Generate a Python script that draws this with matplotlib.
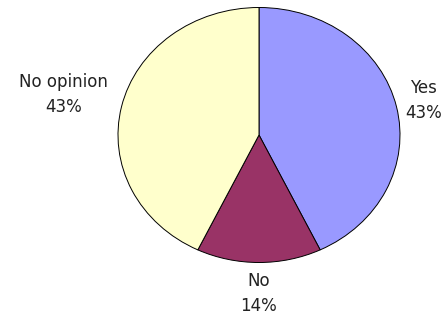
import numpy as np
import matplotlib
matplotlib.use('Agg')
import matplotlib.pyplot as plt

# 데이터
labels = ['Yes', 'No', 'No opinion']
counts = [3, 1, 3]
colors = ['#9999FF', '#993366', '#FFFFCC']
label_dist = [1.2, 1.24, 1.42]

fig = plt.figure(figsize=(4.46, 3.2), dpi=100)
ax = fig.add_axes([0, 0, 1, 1])

wedges, _ = ax.pie(counts, colors=colors, startangle=90, counterclock=False,
                   wedgeprops=dict(edgecolor='black', linewidth=0.7))

total = sum(counts)
for w, lab, c, d in zip(wedges, labels, counts, label_dist):
    ang = np.deg2rad((w.theta1 + w.theta2) / 2)
    pct = round(100 * c / total)
    ax.text(d * np.cos(ang), d * np.sin(ang), f'{lab}\n{pct}%',
            ha='center', va='center', fontsize=12, linespacing=1.5,
            color='#222222')

# 타원형 파이 (Excel 스타일)
ax.set_aspect('auto')
ax.set_xlim(-259 / 141, (446 - 259) / 141)
ax.set_ylim(-185 / 127.5, 135 / 127.5)
ax.axis('off')

fig.savefig('out.png', dpi=100)
